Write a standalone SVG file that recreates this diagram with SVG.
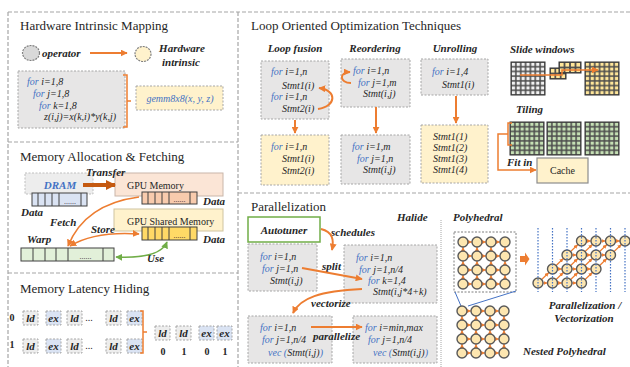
<svg xmlns="http://www.w3.org/2000/svg" width="630" height="367" viewBox="0 0 630 367" font-family="'Liberation Serif','Times New Roman',serif">
<style>
  text{font-family:"Liberation Serif","Times New Roman",serif;fill:#262626}
  .t{font-size:13px}
  .lb{font-size:11px;font-weight:bold;font-style:italic}
  .c{font-size:10px;font-style:italic}
  .s{font-size:10px}
  .kw{fill:#4472c4}
  .m{text-anchor:middle}
  .panel{fill:none;stroke:#a6a6a6;stroke-width:1.2;stroke-dasharray:4 2}
  .gb{fill:#e7e6e6;stroke:#a6a6a6;stroke-width:1;stroke-dasharray:2 1.5}
  .yb{fill:#fff2cc;stroke:#a6a6a6;stroke-width:1;stroke-dasharray:2 1.5}
  .lbx{fill:#ededed;stroke:#a6a6a6;stroke-width:1;stroke-dasharray:2 1.5}
  .ebx{fill:#dae3f3;stroke:#a6a6a6;stroke-width:1;stroke-dasharray:2 1.5}
  .cell{fill:none;stroke:#404040;stroke-width:1}
  .arr{fill:none;stroke:#ed7d31;stroke-width:2;marker-end:url(#ah)}
  .arrt{fill:none;stroke:#ed7d31;stroke-width:1.5;marker-end:url(#ah)}
  .two{marker-start:url(#ah)}
  .br{fill:none;stroke:#ed7d31;stroke-width:1.5}
  .pa{fill:none;stroke:#ed7d31;stroke-width:1.2;marker-mid:url(#ahS)}
  .pn{fill:#fde6b0;stroke:#595959;stroke-width:1.4}
  .bd{fill:none;stroke:#4472c4;stroke-width:1.2;stroke-dasharray:1.5 1.5}
  .dots{font-size:8px}
</style>
<defs>
  <marker id="ah" viewBox="0 0 10 10" refX="9" refY="5" markerWidth="7" markerHeight="7" markerUnits="userSpaceOnUse" orient="auto-start-reverse">
    <path d="M0,0 L10,5 L0,10 z" fill="#ed7d31"/>
  </marker>
  <marker id="ahB" viewBox="0 0 10 10" refX="9" refY="5" markerWidth="10" markerHeight="10" markerUnits="userSpaceOnUse" orient="auto">
    <path d="M0,0 L10,5 L0,10 z" fill="#c55a11"/>
  </marker>
  <marker id="ahG" viewBox="0 0 10 10" refX="9" refY="5" markerWidth="7" markerHeight="7" markerUnits="userSpaceOnUse" orient="auto-start-reverse">
    <path d="M0,0 L10,5 L0,10 z" fill="#70ad47"/>
  </marker>
  <marker id="ahS" viewBox="0 0 10 10" refX="10" refY="5" markerWidth="4" markerHeight="4" markerUnits="userSpaceOnUse" orient="auto">
    <path d="M0,0 L10,5 L0,10 z" fill="#ed7d31"/>
  </marker>
  <!-- grid cell patterns: 7x7 tiles -->
  <pattern id="gGray" width=".142857" height=".142857" viewBox="0 0 10 10" preserveAspectRatio="none">
    <rect width="10" height="10" fill="#4d4d4d"/><rect x="1.6" y="1.6" width="6.8" height="6.8" fill="#f2f2f2"/>
  </pattern>
  <pattern id="gYel" width=".142857" height=".142857" viewBox="0 0 10 10" preserveAspectRatio="none">
    <rect width="10" height="10" fill="#4d4d4d"/><rect x="1.6" y="1.6" width="6.8" height="6.8" fill="#ffe699"/>
  </pattern>
  <pattern id="gGrn" width=".142857" height=".142857" viewBox="0 0 10 10" preserveAspectRatio="none">
    <rect width="10" height="10" fill="#4d4d4d"/><rect x="1.6" y="1.6" width="6.8" height="6.8" fill="#c5e0b4"/>
  </pattern>
  <pattern id="gY3" width=".33333" height=".5" viewBox="0 0 10 10" preserveAspectRatio="none">
    <rect width="10" height="10" fill="#4d4d4d"/><rect x="1.6" y="1.6" width="6.8" height="6.8" fill="#ffe699"/>
  </pattern>
  <pattern id="gY4" width=".25" height=".5" viewBox="0 0 10 10" preserveAspectRatio="none">
    <rect width="10" height="10" fill="#4d4d4d"/><rect x="1.6" y="1.6" width="6.8" height="6.8" fill="#ffe699"/>
  </pattern>
  <!-- 4x4 iteration space with dependence arrows -->
  <g id="pgrid">
    <path class="pa" d="M0,0H9H23H37H42"/>
    <path class="pa" d="M0,14H9H23H37H42"/>
    <path class="pa" d="M0,28H9H23H37H42"/>
    <path class="pa" d="M0,42H9H23H37H42"/>
    <path class="pa" d="M0,42V33V19V5V0"/>
    <path class="pa" d="M14,42V33V19V5V0"/>
    <path class="pa" d="M28,42V33V19V5V0"/>
    <path class="pa" d="M42,42V33V19V5V0"/>
    <circle class="pn" cx="0" cy="0" r="5"/><circle class="pn" cx="14" cy="0" r="5"/><circle class="pn" cx="28" cy="0" r="5"/><circle class="pn" cx="42" cy="0" r="5"/>
    <circle class="pn" cx="0" cy="14" r="5"/><circle class="pn" cx="14" cy="14" r="5"/><circle class="pn" cx="28" cy="14" r="5"/><circle class="pn" cx="42" cy="14" r="5"/>
    <circle class="pn" cx="0" cy="28" r="5"/><circle class="pn" cx="14" cy="28" r="5"/><circle class="pn" cx="28" cy="28" r="5"/><circle class="pn" cx="42" cy="28" r="5"/>
    <circle class="pn" cx="0" cy="42" r="5"/><circle class="pn" cx="14" cy="42" r="5"/><circle class="pn" cx="28" cy="42" r="5"/><circle class="pn" cx="42" cy="42" r="5"/>
  </g>
</defs>

<rect width="630" height="367" fill="#ffffff"/>

<!-- panel frames -->
<g id="frames">
  <path class="panel" d="M8,12 H630 M8,12 V367 M238,12 V367 M8,142 H238 M8,273 H238 M238,193 H630"/>
  <path d="M441,220 V367" fill="none" stroke="#a6a6a6" stroke-width="1" stroke-dasharray="1 1"/>
</g>

<!-- ===== Hardware Intrinsic Mapping ===== -->
<g id="hw-mapping">
  <text class="t" x="20" y="30">Hardware Intrinsic Mapping</text>
  <g id="hw-operator">
    <ellipse cx="31" cy="53" rx="8.5" ry="7.5" fill="#d9d9d9" stroke="#7f7f7f" stroke-width="1.2" stroke-dasharray="2 1"/>
    <text class="lb" x="42" y="57">operator</text>
  </g>
  <g id="hw-intrinsic">
    <ellipse cx="143" cy="54" rx="8" ry="7.5" fill="#fff2cc" stroke="#7f7f7f" stroke-width="1.2" stroke-dasharray="2 1"/>
    <text class="lb m" x="182" y="52">Hardware</text>
    <text class="lb m" x="181" y="66">intrinsic</text>
  </g>
  <g id="hw-loop">
    <rect class="gb" x="18" y="71" width="107" height="57"/>
    <text class="c" x="27" y="85"><tspan class="kw">for</tspan> i=1,8</text>
    <text class="c" x="33" y="97"><tspan class="kw">for</tspan> j=1,8</text>
    <text class="c" x="39" y="108.5"><tspan class="kw">for</tspan> k=1,8</text>
    <text class="c" x="44" y="120">z(i,j)=x(k,i)*y(k,j)</text>
  </g>
  <g id="hw-gemm">
    <rect class="yb" x="136" y="86" width="87" height="24"/>
    <text class="c kw m" x="180" y="101.5">gemm8x8(x, y, z)</text>
  </g>
</g>

<!-- ===== Memory Allocation & Fetching ===== -->
<g id="mem-alloc">
  <text class="t" x="20" y="161">Memory Allocation &amp; Fetching</text>
  <g id="dram">
    <rect x="25" y="173" width="68" height="21" fill="#ededed" stroke="#bfbfbf" stroke-width="1" stroke-dasharray="2 1.5"/>
    <text class="lb kw m" x="60" y="189">DRAM</text>
    <rect x="32" y="193" width="55" height="13" fill="#dae3f3" stroke="#404040"/>
    <path class="cell" d="M38,193V206M45,193V206M52,193V206M59,193V206M81,193V206"/>
    <text class="dots m" x="70" y="204">......</text>
    <text class="lb" x="21" y="216">Data</text>
  </g>
  <g id="gpu-mem">
    <rect x="115" y="173" width="108" height="23" fill="#fbe5d6" stroke="#c9b6aa" stroke-width="1"/>
    <text class="s" x="127" y="189">GPU Memory</text>
    <rect x="142" y="192" width="55" height="12" fill="#f8cbad" stroke="#404040"/>
    <path class="cell" d="M148,192V204M155,192V204M162,192V204M169,192V204M190,192V204"/>
    <text class="dots m" x="179.5" y="202">......</text>
    <text class="lb" x="203" y="205">Data</text>
  </g>
  <g id="gpu-shared">
    <rect x="114" y="209" width="109" height="22" fill="#fff2cc" stroke="#cfc4a0" stroke-width="1"/>
    <text class="s" x="127" y="224.5">GPU Shared Memory</text>
    <rect x="142" y="227" width="55" height="13" fill="#ffd966" stroke="#404040"/>
    <path class="cell" d="M148,227V240M155,227V240M162,227V240M169,227V240M190,227V240"/>
    <text class="dots m" x="179.5" y="238">......</text>
    <text class="lb" x="203" y="243">Data</text>
  </g>
  <g id="warp">
    <text class="lb" x="27" y="243">Warp</text>
    <rect x="21" y="248" width="93" height="13" fill="#e2f0d9" stroke="#404040"/>
    <path class="cell" d="M33,248V261M45,248V261M56,248V261M68,248V261M103,248V261"/>
    <text class="dots m" x="85.5" y="259">......</text>
  </g>
  <text class="lb" x="86" y="176">Transfer</text>
  <text class="lb" x="50" y="226">Fetch</text>
  <text class="lb" x="91" y="233">Store</text>
  <text class="lb" x="147" y="262">Use</text>
</g>

<!-- ===== Memory Latency Hiding ===== -->
<g id="latency">
  <text class="t" x="20" y="293">Memory Latency Hiding</text>
  <text class="s m" x="12" y="321" font-weight="bold">0</text>
  <text class="s m" x="12" y="348" font-weight="bold">1</text>
  <g id="lat-row0">
    <rect class="lbx" x="23" y="311" width="15" height="14"/><text class="lb m" x="30.5" y="322" font-weight="normal">ld</text>
    <rect class="ebx" x="46" y="311" width="15" height="14"/><text class="lb m" x="53.5" y="322" font-weight="normal">ex</text>
    <rect class="lbx" x="67" y="311" width="15" height="14"/><text class="lb m" x="74.5" y="322" font-weight="normal">ld</text>
    <text class="s m" x="89" y="321">...</text>
    <rect class="lbx" x="106" y="311" width="15" height="14"/><text class="lb m" x="113.5" y="322" font-weight="normal">ld</text>
    <rect class="ebx" x="127" y="311" width="15" height="14"/><text class="lb m" x="134.5" y="322" font-weight="normal">ex</text>
  </g>
  <g id="lat-row1">
    <rect class="lbx" x="23" y="339" width="15" height="14"/><text class="lb m" x="30.5" y="350" font-weight="normal">ld</text>
    <rect class="ebx" x="46" y="339" width="15" height="14"/><text class="lb m" x="53.5" y="350" font-weight="normal">ex</text>
    <rect class="lbx" x="67" y="339" width="15" height="14"/><text class="lb m" x="74.5" y="350" font-weight="normal">ld</text>
    <text class="s m" x="89" y="349">...</text>
    <rect class="lbx" x="106" y="339" width="15" height="14"/><text class="lb m" x="113.5" y="350" font-weight="normal">ld</text>
    <rect class="ebx" x="127" y="339" width="15" height="14"/><text class="lb m" x="134.5" y="350" font-weight="normal">ex</text>
  </g>
  <path class="br" d="M140,311 H143 V353 H140 M143,332 H147"/>
  <g id="lat-merged">
    <rect class="lbx" x="155" y="326" width="15" height="14"/><text class="lb m" x="162.5" y="337" font-weight="normal">ld</text>
    <rect class="lbx" x="176" y="326" width="15" height="14"/><text class="lb m" x="183.5" y="337" font-weight="normal">ld</text>
    <rect class="ebx" x="199" y="326" width="15" height="14"/><text class="lb m" x="206.5" y="337" font-weight="normal">ex</text>
    <rect class="ebx" x="217" y="326" width="15" height="14"/><text class="lb m" x="224.5" y="337" font-weight="normal">ex</text>
    <text class="s m" x="163" y="355" font-weight="bold">0</text>
    <text class="s m" x="184" y="355" font-weight="bold">1</text>
    <text class="s m" x="207" y="355" font-weight="bold">0</text>
    <text class="s m" x="225" y="355" font-weight="bold">1</text>
  </g>
</g>

<!-- ===== Loop Oriented Optimization Techniques ===== -->
<g id="loop-opt">
  <text class="t" x="251" y="30">Loop Oriented Optimization Techniques</text>
  <text class="lb m" x="295" y="52">Loop fusion</text>
  <text class="lb m" x="375" y="52">Reordering</text>
  <text class="lb m" x="455" y="52">Unrolling</text>
  <text class="lb" x="510" y="53">Slide windows</text>
  <text class="lb" x="516" y="113">Tiling</text>

  <g id="fusion-before">
    <rect class="gb" x="261" y="61" width="68" height="58"/>
    <text class="c" x="271" y="75"><tspan class="kw">for</tspan> i=1,n</text>
    <text class="c" x="282" y="89">Stmt1(i)</text>
    <text class="c" x="271" y="100"><tspan class="kw">for</tspan> i=1,n</text>
    <text class="c" x="282" y="112">Stmt2(i)</text>
  </g>
  <g id="fusion-after">
    <rect class="yb" x="261" y="135" width="68" height="50"/>
    <text class="c" x="271" y="150"><tspan class="kw">for</tspan> i=1,n</text>
    <text class="c" x="282" y="162">Stmt1(i)</text>
    <text class="c" x="282" y="174">Stmt2(i)</text>
  </g>
  <g id="reorder-before">
    <rect class="gb" x="341" y="59" width="69" height="48"/>
    <text class="c" x="353" y="74"><tspan class="kw">for</tspan> i=1,n</text>
    <text class="c" x="358" y="85.5"><tspan class="kw">for</tspan> j=1,m</text>
    <text class="c" x="363" y="97">Stmt(i,j)</text>
  </g>
  <g id="reorder-after">
    <rect class="gb" x="341" y="135" width="69" height="49"/>
    <text class="c" x="352" y="150"><tspan class="kw">for</tspan> i=1,m</text>
    <text class="c" x="357" y="161.5"><tspan class="kw">for</tspan> j=1,n</text>
    <text class="c" x="363" y="173">Stmt(i,j)</text>
  </g>
  <g id="unroll-before">
    <rect class="gb" x="421" y="59" width="67" height="36"/>
    <text class="c" x="432" y="75"><tspan class="kw">for</tspan> i=1,4</text>
    <text class="c" x="442" y="88">Stmt1(i)</text>
  </g>
  <g id="unroll-after">
    <rect class="yb" x="421" y="125" width="67" height="58"/>
    <text class="c" x="433" y="140">Stmt1(1)</text>
    <text class="c" x="433" y="151">Stmt1(2)</text>
    <text class="c" x="433" y="162">Stmt1(3)</text>
    <text class="c" x="433" y="173">Stmt1(4)</text>
  </g>
  <g id="slide-windows">
    <rect x="511" y="62" width="34" height="33" fill="url(#gGray)" stroke="#333" stroke-width="1"/>
    <rect x="550" y="68" width="16" height="11" fill="url(#gY3)" stroke="#333" stroke-width="1"/>
    <rect x="559" y="62" width="22" height="11" fill="url(#gY4)" stroke="#333" stroke-width="1"/>
    <rect x="585" y="62" width="34" height="33" fill="url(#gYel)" stroke="#333" stroke-width="1"/>
  </g>
  <g id="tiling">
    <rect x="510" y="122" width="34" height="33" fill="url(#gGrn)" stroke="#333" stroke-width="1"/>
    <rect x="547" y="122" width="34" height="33" fill="url(#gGrn)" stroke="#333" stroke-width="1"/>
    <rect x="585" y="122" width="34" height="33" fill="url(#gGrn)" stroke="#333" stroke-width="1"/>
  </g>
  <g id="cache">
    <rect x="537" y="158" width="51" height="25" fill="#fff2cc" stroke="#8c8c8c" stroke-width="1.2"/>
    <text class="s m" x="562.5" y="174" font-size="11">Cache</text>
  </g>
  <text class="lb" x="507" y="166" font-weight="normal">Fit in</text>
</g>

<!-- ===== Parallelization ===== -->
<g id="parallel">
  <text class="t" x="251" y="211">Parallelization</text>
  <text class="lb" x="397" y="221">Halide</text>
  <g id="autotuner">
    <rect x="248" y="217" width="72" height="25" fill="#ffffff" stroke="#70ad47" stroke-width="1.5"/>
    <text class="lb m" x="284" y="234">Autotuner</text>
  </g>
  <g id="par-orig">
    <rect class="gb" x="248" y="244" width="69" height="47"/>
    <text class="c" x="260" y="260"><tspan class="kw">for</tspan> i=1,n</text>
    <text class="c" x="262" y="272"><tspan class="kw">for</tspan> j=1,n</text>
    <text class="c" x="270" y="284">Stmt(i,j)</text>
  </g>
  <g id="par-split">
    <rect class="gb" x="344" y="245" width="93" height="58"/>
    <text class="c" x="356" y="261"><tspan class="kw">for</tspan> i=1,n</text>
    <text class="c" x="359" y="273"><tspan class="kw">for</tspan> j=1,n/4</text>
    <text class="c" x="368" y="284"><tspan class="kw">for</tspan> k=1,4</text>
    <text class="c" x="373" y="295">Stmt(i,j*4+k)</text>
  </g>
  <g id="par-vec">
    <rect class="gb" x="248" y="316" width="84" height="47"/>
    <text class="c" x="260" y="331"><tspan class="kw">for</tspan> i=1,n</text>
    <text class="c" x="262" y="343"><tspan class="kw">for</tspan> j=1,n/4</text>
    <text class="c" x="268" y="355.5"><tspan class="kw">vec</tspan> <tspan class="kw">(</tspan>Stmt(i,j)<tspan class="kw">)</tspan></text>
  </g>
  <g id="par-par">
    <rect class="gb" x="353" y="316" width="84" height="47"/>
    <text class="c" x="365" y="331"><tspan class="kw">for</tspan> i=min,max</text>
    <text class="c" x="368" y="343"><tspan class="kw">for</tspan> j=1,n/4</text>
    <text class="c" x="373" y="355.5"><tspan class="kw">vec</tspan> <tspan class="kw">(</tspan>Stmt(i,j)<tspan class="kw">)</tspan></text>
  </g>
  <text class="lb" x="331" y="236">schedules</text>
  <text class="lb" x="322" y="270">split</text>
  <text class="lb" x="311" y="307">vectorize</text>
  <text class="lb" x="313" y="340" font-size="9.5">parallelize</text>
</g>

<!-- ===== Polyhedral ===== -->
<g id="polyhedral">
  <text class="lb" x="453" y="221">Polyhedral</text>
  <rect x="454" y="232" width="62" height="60" fill="none" stroke="#7f7f7f" stroke-width="1" stroke-dasharray="2 1.5"/>
  <use href="#pgrid" x="463" y="242"/>
  <path d="M455,292 L461,306 M516,291 L468,306" fill="none" stroke="#4472c4" stroke-width="1"/>
  <g id="nested-grid"><use href="#pgrid" x="462" y="311"/></g>
  <text class="lb" x="523" y="355">Nested Polyhedral</text>
  <path d="M520,256H525V252.5L529.5,259L525,265.5V262H520Z" fill="#ed7d31"/>
  <g id="skewed-grid">
    <path class="pa" d="M538,283H547.5H562H576.5H581.5"/>
    <path class="pa" d="M552.5,269H562H576.5H591H596"/>
    <path class="pa" d="M567,255H576.5H591H605.5H610.5"/>
    <path class="pa" d="M581.5,241H591H605.5H620H625"/>
    <path class="pa" d="M538,283L548.9,272.47L563.4,258.47L577.9,244.47L581.5,241"/>
    <path class="pa" d="M552.5,283L563.4,272.47L577.9,258.47L592.4,244.47L596,241"/>
    <path class="pa" d="M567,283L577.9,272.47L592.4,258.47L606.9,244.47L610.5,241"/>
    <path class="pa" d="M581.5,283L592.4,272.47L606.9,258.47L621.4,244.47L625,241"/>
    <circle class="pn" cx="538" cy="283" r="5"/><circle class="pn" cx="552.5" cy="283" r="5"/><circle class="pn" cx="567" cy="283" r="5"/><circle class="pn" cx="581.5" cy="283" r="5"/>
    <circle class="pn" cx="552.5" cy="269" r="5"/><circle class="pn" cx="567" cy="269" r="5"/><circle class="pn" cx="581.5" cy="269" r="5"/><circle class="pn" cx="596" cy="269" r="5"/>
    <circle class="pn" cx="567" cy="255" r="5"/><circle class="pn" cx="581.5" cy="255" r="5"/><circle class="pn" cx="596" cy="255" r="5"/><circle class="pn" cx="610.5" cy="255" r="5"/>
    <circle class="pn" cx="581.5" cy="241" r="5"/><circle class="pn" cx="596" cy="241" r="5"/><circle class="pn" cx="610.5" cy="241" r="5"/><circle class="pn" cx="625" cy="241" r="5"/>
    <path class="bd" d="M538,228V292M552.5,228V292M567,228V292M581.5,228V292M596,228V292M610.5,228V292M625,228V292"/>
  </g>
  <text class="lb m" x="585" y="309">Parallelization /</text>
  <text class="lb m" x="584" y="322">Vectorization</text>
</g>

<!-- ===== connectors ===== -->
<g id="connectors">
  <path class="arr" d="M90,53 H127"/>
  <path class="br" d="M123,75 H127 V127 H123 M127,101 H131"/>
  <path d="M83,185 H115" fill="none" stroke="#c55a11" stroke-width="4" marker-end="url(#ahB)"/>
  <path class="arrt" d="M139,197 Q85,204 68,246"/>
  <path class="arrt two" d="M70,246 Q95,231 139,234"/>
  <path d="M116,257 Q160,259 167,242" fill="none" stroke="#70ad47" stroke-width="1.5" marker-start="url(#ahG)" marker-end="url(#ahG)"/>
  <path class="arr" d="M318,109 C337,106 337,90 319,88"/>
  <path class="arr" d="M295,120 V133"/>
  <path class="arr" d="M351,83 C339,83 339,72 350,72"/>
  <path class="arr" d="M376,107 V133"/>
  <path class="arr" d="M456,96 V123"/>
  <path class="arrt" d="M520,75 H562 V70 H598"/>
  <path class="br" d="M512,123 H508 V145 H512"/>
  <path class="arrt" d="M508,134 H498 V170 H536"/>
  <path class="arr" d="M321,229 C333,232 334,240 332,250"/>
  <path class="arr" d="M302,268 L362,279"/>
  <path class="arr" d="M362,289 C320,291 300,298 293,313"/>
  <path class="arr" d="M311,327 H362"/>
</g>
</svg>
